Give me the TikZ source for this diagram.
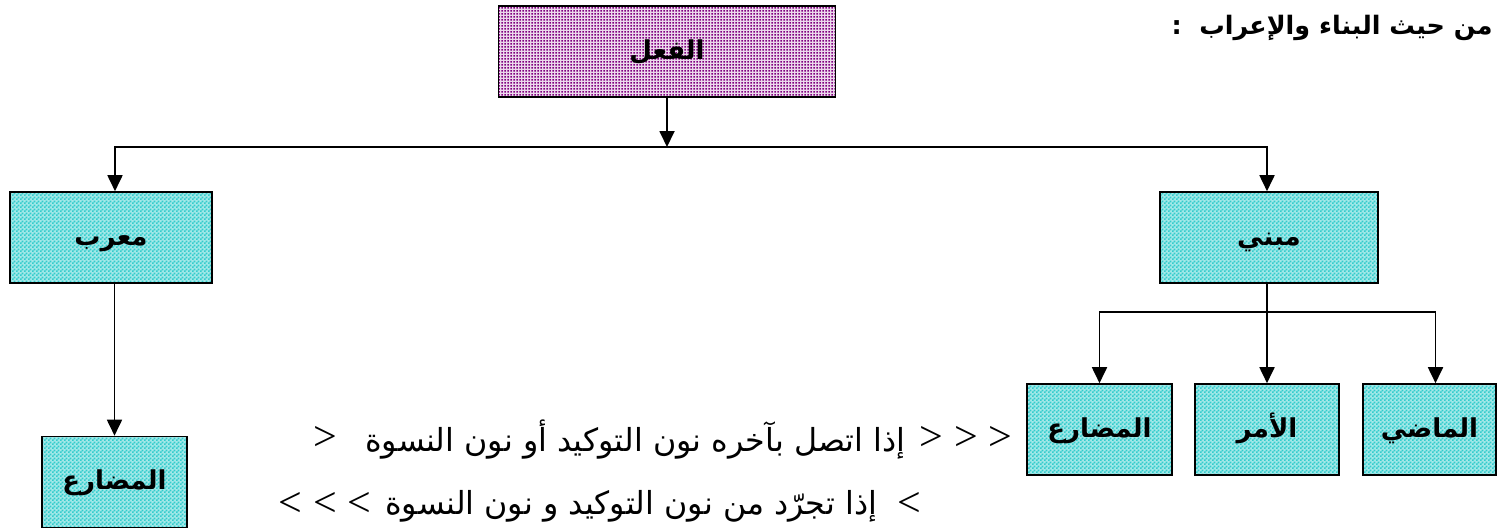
\documentclass[tikz,border=0pt]{standalone}
\usepackage{fontspec}
\usepackage{graphicx}
\usetikzlibrary{patterns,arrows.meta}
\TeXXeTstate=1
\newfontfamily\arabicfont[Script=Arabic]{DejaVu Sans}
\newfontfamily\chevfont{Liberation Serif}
\definecolor{tealc}{RGB}{51,204,204}
\definecolor{purpc}{RGB}{128,0,128}
\pgfdeclarepatternformonly{tealchk}{\pgfqpoint{0pt}{0pt}}{\pgfqpoint{4pt}{4pt}}{\pgfqpoint{4pt}{4pt}}{%
  \pgfpathrectangle{\pgfqpoint{0pt}{0pt}}{\pgfqpoint{2.1pt}{2.1pt}}%
  \pgfpathrectangle{\pgfqpoint{2pt}{2pt}}{\pgfqpoint{2.1pt}{2.1pt}}%
  \pgfusepath{fill}}
\pgfdeclarepatternformonly{purpdots}{\pgfqpoint{0pt}{0pt}}{\pgfqpoint{3pt}{3pt}}{\pgfqpoint{3pt}{3pt}}{%
  \pgfpathrectangle{\pgfqpoint{0.6pt}{0.6pt}}{\pgfqpoint{1.8pt}{1.8pt}}%
  \pgfusepath{fill}}
\newlength\lineonewidth
\begin{document}
\settowidth\lineonewidth{\arabicfont\fontsize{24}{28}\selectfont\beginR إذا اتصل بآخره نون التوكيد أو نون النسوة\endR}
\begin{tikzpicture}[x=1pt,y=-1pt,
  arr/.style={line width=1.8pt,-{Triangle[length=16pt,width=15pt]}},
  boxbase/.style={draw=black,line width=1.6pt,inner sep=0pt,minimum height=91pt,
    text height=24pt,text depth=9pt,font=\arabicfont\bfseries\fontsize{26}{30}\selectfont},
  tealbox/.style={boxbase,preaction={fill=tealc!45!white},pattern=tealchk,pattern color=tealc},
  purpbox/.style={boxbase,preaction={fill=purpc!15!white},pattern=purpdots,pattern color=purpc},
  artext/.style={font=\arabicfont\fontsize{24}{28}\selectfont,inner sep=0pt},
  chev/.style={font=\chevfont\fontsize{42}{44}\selectfont,inner sep=0pt}]
\useasboundingbox (0,0) rectangle (1497,528);
\pgfmathsetmacro\linescale{540/\lineonewidth}

% title
\node[font=\arabicfont\bfseries\fontsize{24}{28}\selectfont,inner sep=0pt] (title) at (1332,28)
  {\resizebox{321pt}{!}{\beginR من حيث البناء والإعراب\ \ :\endR}};

% boxes
\node[purpbox,minimum width=337pt] (fiel) at (667,51.5) {\beginR الفعل\endR};
\node[tealbox,minimum width=202pt] (murab) at (111,237.5) {\beginR معرب\endR};
\node[tealbox,minimum width=218pt] (mabni) at (1269,237.5) {\beginR مبني\endR};
\node[tealbox,minimum width=145pt] (mud1) at (1099.5,429.5) {\beginR المضارع\endR};
\node[tealbox,minimum width=144pt] (amr) at (1267,429.5) {\beginR الأمر\endR};
\node[tealbox,minimum width=133pt] (madi) at (1429.5,429.5) {\beginR الماضي\endR};
\node[tealbox,minimum width=145pt] (mud2) at (114.5,482) {\beginR المضارع\endR};

% connectors
\coordinate (j) at (667,147);
\coordinate (k) at (1267,312);
\draw[arr] (fiel.south) -- (j);
\draw[arr] (j) -| ([xshift=4pt]murab.north);
\draw[arr] (j) -| ([xshift=-2pt]mabni.north);
\draw[arr] (amr.north |- mabni.south) -- (amr.north);
\draw[arr] (k) -| (mud1.north);
\draw[arr] (k) -| ([xshift=6pt]madi.north);
\draw[arr] (mud2.north |- murab.south) -- (mud2.north);

% condition lines
\node[chev] (c1l) at (325,438) {>};
\node[artext] (t1) at (635,440) {\scalebox{\linescale}{\beginR إذا اتصل بآخره نون التوكيد أو نون النسوة\endR}};
\node[chev] (c1r) at (966,438) {> > >};
\node[chev] (c2l) at (325,504) {< < <};
\node[artext,anchor=west] (t2) at (385,506) {\scalebox{\linescale}{\beginR إذا تجرّد من نون التوكيد و نون النسوة\endR}};
\node[chev,anchor=west] (c2r) at ([xshift=20pt]t2.east |- c2l) {<};
\end{tikzpicture}
\end{document}
